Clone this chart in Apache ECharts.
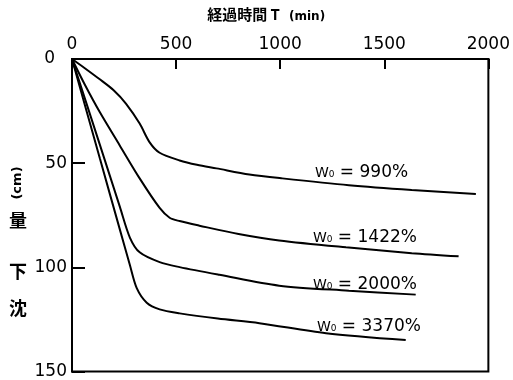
<!DOCTYPE html>
<html>
<head>
<meta charset="utf-8">
<script src="https://cdn.jsdelivr.net/npm/echarts@6/dist/echarts.min.js"></script>
<style>
html,body{margin:0;padding:0;background:#fff;}
#chart{width:513px;height:380px;}
</style>
</head>
<body>
<div id="chart"></div>
<script>
// Elapsed time T (min) and settlement (cm) for each initial water content
const t990  = [0, 60, 130, 200, 260, 325, 373, 421, 517, 600, 694, 852, 1010, 1330, 1632, 1940];
const s990  = [0, 4.3, 9.5, 15, 21.5, 31, 40, 45, 48.7, 50.8, 52.5, 55.4, 57.3, 60.6, 62.9, 64.8];
const t1422 = [0, 60, 134, 230, 325, 421, 469, 517, 612, 800, 995, 1316, 1632, 1857];
const s1422 = [0, 12, 25.6, 41.6, 57.3, 71.5, 76.2, 77.8, 80, 84, 87.1, 90.4, 93.2, 94.7];
const t2000 = [0, 134, 230, 278, 325, 421, 517, 708, 995, 1330, 1651];
const s2000 = [0, 41.2, 71, 85.7, 92.8, 97.5, 99.9, 103.6, 108.8, 111.2, 113.1];
const t3370 = [0, 134, 230, 278, 311, 359, 421, 517, 700, 900, 1220, 1603];
const s3370 = [0, 47.8, 81.9, 98.9, 110, 117, 120.2, 122.1, 124.6, 126.8, 131.6, 134.9];
const seriesNames = ['990%', '1422%', '2000%', '3370%'];
const xTicks = [0, 500, 1000, 1500, 2000];
const yTicks = [0, 50, 100, 150];

const pairs = (t, s) => t.map((v, i) => [v, s[i]]);
const allData = [pairs(t990, s990), pairs(t1422, s1422), pairs(t2000, s2000), pairs(t3370, s3370)];

const chart = echarts.init(document.getElementById('chart'), null, {renderer: 'canvas'});
const FONT = "DejaVu Sans";
const CJK = "Noto Sans CJK JP";

function labelText(name) {
  return '{w|W₀}{e| = ' + name + '}';
}
const labelRich = {
  w: {fontSize: 14, fontFamily: FONT, color: '#000'},
  e: {fontSize: 17, fontFamily: FONT, color: '#000'}
};
const labelPos = [[315, 173], [313, 238], [313, 285], [317, 327]];

function cjkChar(ch, y) {
  return {type: 'text', x: 18, y: y, style: {text: ch, fontSize: 18, fontFamily: CJK, fontWeight: 'bold', fill: '#000', align: 'center', verticalAlign: 'middle'}};
}

chart.setOption({
  animation: false,
  backgroundColor: '#fff',
  grid: {left: 72, top: 59, right: 23, bottom: 4, show: true, borderColor: '#000', borderWidth: 2, backgroundColor: 'transparent'},
  xAxis: {
    type: 'value', position: 'top', min: 0, max: 2000, interval: 500,
    axisLine: {show: true, lineStyle: {color: '#000', width: 2}},
    axisTick: {show: true, inside: true, length: 10, lineStyle: {color: '#000', width: 2}},
    splitLine: {show: false},
    axisLabel: {
      show: true, margin: 6, color: '#000', fontSize: 17, fontFamily: FONT,
      formatter: v => xTicks.includes(v) ? String(v) : ''
    }
  },
  yAxis: {
    type: 'value', inverse: true, min: 0, max: 150, interval: 50,
    axisLine: {show: true, lineStyle: {color: '#000', width: 2}},
    axisTick: {show: true, inside: true, length: 13, lineStyle: {color: '#000', width: 2}},
    splitLine: {show: false},
    axisLabel: {
      show: true, margin: 5, color: '#000', fontSize: 17, fontFamily: FONT,
      formatter: v => yTicks.includes(v) ? (v === 0 ? '{z|0}' : String(v)) : '',
      rich: {z: {fontSize: 17, fontFamily: FONT, color: '#000', padding: [0, 12, 0, 0]}}
    }
  },
  series: allData.map((d, i) => ({
    type: 'line', name: seriesNames[i], data: d, smooth: 0.3, showSymbol: false,
    lineStyle: {color: '#000', width: 2}
  })),
  graphic: [
    {type: 'text', x: 280, y: 14, style: {text: '経過時間 T', fontSize: 15, fontFamily: CJK, fontWeight: 'bold', fill: '#000', align: 'right', verticalAlign: 'middle'}},
    {type: 'text', x: 289, y: 17, style: {text: '(min)', fontSize: 12, fontFamily: FONT, fontWeight: 'bold', fill: '#000', align: 'left', verticalAlign: 'middle'}},
    cjkChar('沈', 308), cjkChar('下', 271), cjkChar('量', 220),
    {type: 'text', x: 18, y: 183, rotation: Math.PI / 2, style: {text: '(cm)', fontSize: 13, fontFamily: FONT, fontWeight: 'bold', fill: '#000', align: 'center', verticalAlign: 'middle'}}
  ].concat(seriesNames.map((n, i) => ({
    type: 'text', x: labelPos[i][0], y: labelPos[i][1],
    style: {text: labelText(n), rich: labelRich, verticalAlign: 'middle', align: 'left'}
  })))
});
</script>
</body>
</html>
